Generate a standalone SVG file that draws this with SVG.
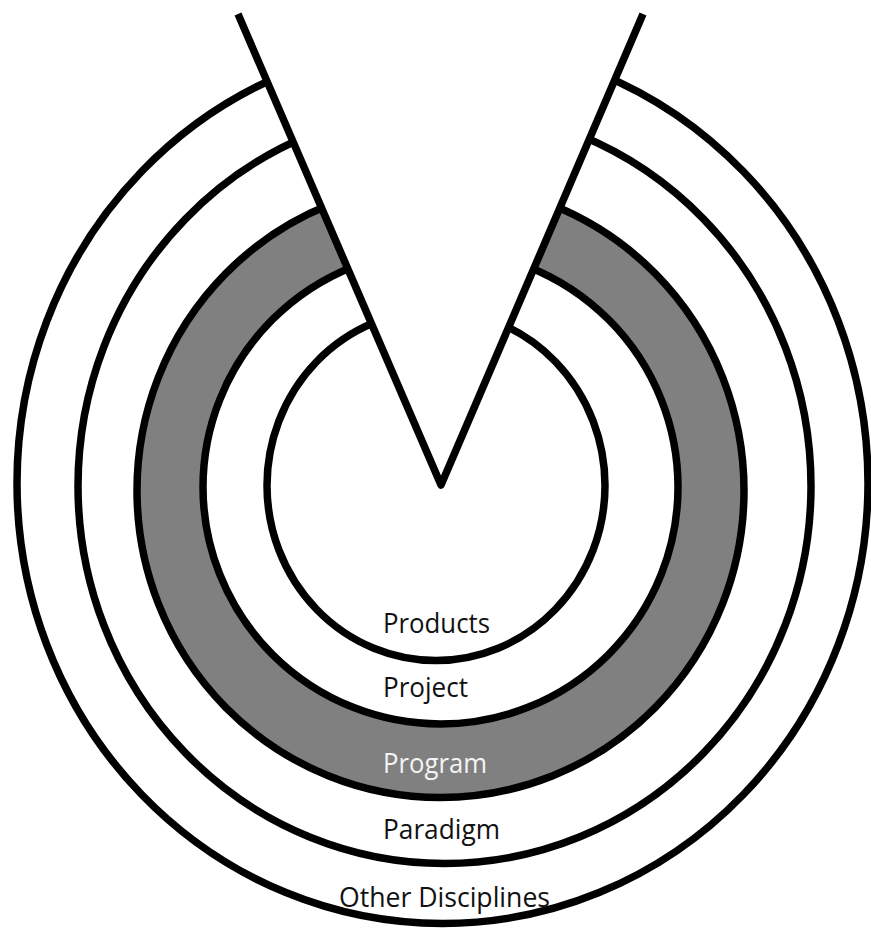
<svg xmlns="http://www.w3.org/2000/svg" width="871" height="933" viewBox="0 0 871 933">
  <style>
    .ring { fill: none; stroke: #000; stroke-width: 7.5; }
    .band { fill: #808080; fill-rule: evenodd; stroke: none; }
    .lbl { font-family: "Open Sans", "Noto Sans", "Liberation Sans", sans-serif; font-size: 27.5px; fill: #111; }
    .lbl-light { fill: #f4f4f4; }
    .cut { fill: #fff; stroke: none; }
    .edge { fill: none; stroke: #000; stroke-width: 7.5; stroke-linejoin: round; stroke-linecap: butt; }
  </style>
  <rect x="0" y="0" width="871" height="933" fill="#fff"/>

  <g id="program-band">
    <path class="band" d="M 137,490.5 A 303.5 307 0 1 0 744,490.5 A 303.5 307 0 1 0 137,490.5 Z M 203,487 A 237.5 237.5 0 1 0 678,487 A 237.5 237.5 0 1 0 203,487 Z"/>
  </g>

  <g id="ring-other-disciplines">
    <ellipse class="ring" cx="442.5" cy="483" rx="425.5" ry="440.5"/>
  </g>
  <g id="ring-paradigm">
    <ellipse class="ring" cx="444.5" cy="486" rx="366.5" ry="377.5"/>
  </g>
  <g id="ring-program">
    <ellipse class="ring" cx="440.5" cy="490.5" rx="303.5" ry="307"/>
  </g>
  <g id="ring-project">
    <ellipse class="ring" cx="440.5" cy="487" rx="237.5" ry="237"/>
  </g>
  <g id="ring-products">
    <ellipse class="ring" cx="436" cy="485.5" rx="169" ry="175"/>
  </g>

  <g id="cutout">
    <polygon class="cut" points="230,0 441,485 650,0"/>
    <polyline class="edge" points="238,14 441,485 643,14"/>
  </g>

  <g id="labels">
    <text class="lbl" x="383" y="633" textLength="107" lengthAdjust="spacingAndGlyphs">Products</text>
    <text class="lbl" x="383" y="697" textLength="85" lengthAdjust="spacingAndGlyphs">Project</text>
    <text class="lbl lbl-light" x="383" y="773" textLength="104" lengthAdjust="spacingAndGlyphs">Program</text>
    <text class="lbl" x="383" y="839" textLength="117" lengthAdjust="spacingAndGlyphs">Paradigm</text>
    <text class="lbl" x="339" y="907" textLength="211" lengthAdjust="spacingAndGlyphs">Other Disciplines</text>
  </g>
</svg>
